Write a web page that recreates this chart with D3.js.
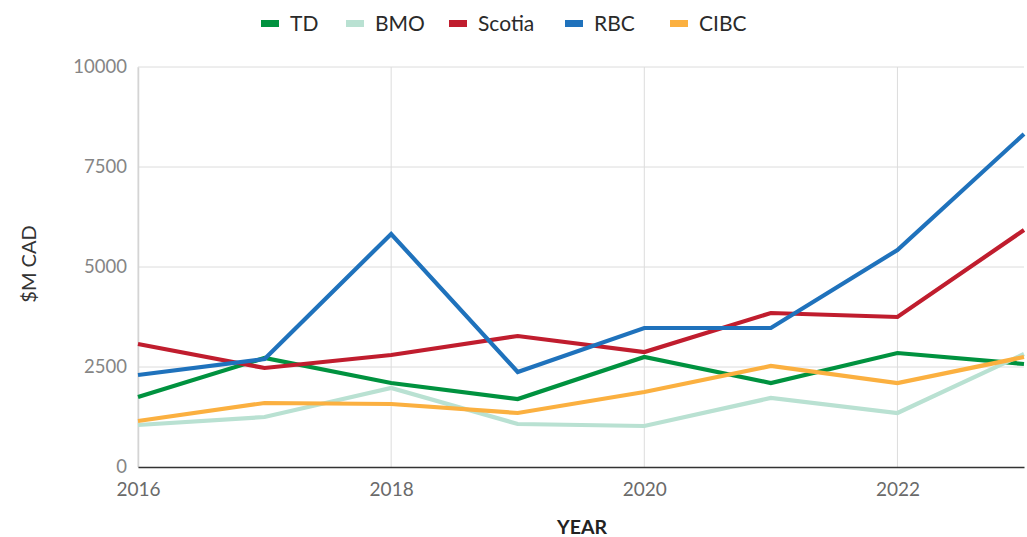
<!DOCTYPE html>
<html><head><meta charset="utf-8">
<script src="https://cdn.jsdelivr.net/npm/d3@7"></script>
<style>body{margin:0;background:#fff}svg{display:block;font-family:Lato,"Open Sans",sans-serif}</style>
</head><body><svg id="c" width="1027" height="537"></svg>
<script>
const years = [2016, 2017, 2018, 2019, 2020, 2021, 2022, 2023];
const seriesNames = ["TD", "BMO", "Scotia", "RBC", "CIBC"];
const seriesColors = ["#00923f", "#b9e1d2", "#c01d2e", "#1f72bc", "#fbb040"];
const tdValues = [1750, 2725, 2100, 1700, 2750, 2100, 2850, 2575];
const bmoValues = [1050, 1250, 1975, 1075, 1025, 1725, 1350, 2825];
const scotiaValues = [3075, 2475, 2800, 3275, 2875, 3850, 3750, 5925];
const rbcValues = [2300, 2700, 5825, 2375, 3475, 3475, 5425, 8325];
const cibcValues = [1150, 1600, 1575, 1350, 1875, 2525, 2100, 2750];
const yTicks = [0, 2500, 5000, 7500, 10000];
const xTicks = [2016, 2018, 2020, 2022];
const allValues = [tdValues, bmoValues, scotiaValues, rbcValues, cibcValues];

const svg = d3.select("#c");
const m = {l:138, r:1024, t:67, b:467};
const x = d3.scaleLinear().domain([2016, 2023]).range([m.l, m.r]);
const y = d3.scaleLinear().domain([0, 10000]).range([m.b, m.t]);

// grid
svg.append("g").selectAll("line").data(yTicks.filter(d=>d>0)).join("line")
  .attr("x1", m.l).attr("x2", m.r).attr("y1", d=>y(d)).attr("y2", d=>y(d))
  .attr("stroke", "#dcdcdc").attr("stroke-width", 1);
svg.append("g").selectAll("line").data(xTicks).join("line")
  .attr("x1", d=>x(d)).attr("x2", d=>x(d)).attr("y1", m.t).attr("y2", m.b)
  .attr("stroke", "#dcdcdc").attr("stroke-width", 1);

// y axis
const ya = svg.append("g").attr("transform", `translate(${m.l},0)`)
  .call(d3.axisLeft(y).tickValues(yTicks).tickSize(0).tickPadding(11).tickFormat(d3.format("d")));
ya.select(".domain").attr("stroke", "#d4d4d4").attr("stroke-width", 1.5);
ya.selectAll("text").attr("fill", "#858585").attr("font-size", 18.5).attr("font-family", "Lato");

// x axis
const xa = svg.append("g").attr("transform", `translate(0,${m.b})`)
  .call(d3.axisBottom(x).tickValues(xTicks).tickSize(0).tickPadding(16).tickFormat(d3.format("d")));
xa.select(".domain").attr("stroke", "#333").attr("stroke-width", 1.5);
xa.selectAll("text").attr("fill", "#6a6a6a").attr("font-size", 19).attr("font-family", "Lato");

// lines
const line = d3.line().x((d,i)=>x(years[i])).y(d=>y(d));
svg.append("g").selectAll("path").data(allValues).join("path")
  .attr("d", line).attr("fill", "none")
  .attr("stroke", (d,i)=>seriesColors[i]).attr("stroke-width", 4.2)
  .attr("stroke-linejoin", "miter");

// axis titles
svg.append("text").attr("x", 582).attr("y", 534).attr("text-anchor", "middle")
  .attr("font-size", 19.5).attr("font-weight", "bold").attr("fill", "#222").text("YEAR");
svg.append("text").attr("transform", "translate(36,264) rotate(-90)").attr("text-anchor", "middle")
  .attr("font-size", 20).attr("fill", "#333").text("$M CAD");

// legend
const legX = [261, 346, 449, 565, 670];
const lg = svg.append("g").selectAll("g").data(seriesNames).join("g")
  .attr("transform", (d,i)=>`translate(${legX[i]},0)`);
lg.append("rect").attr("x", 0).attr("y", 20).attr("width", 18).attr("height", 7)
  .attr("fill", (d,i)=>seriesColors[i]);
lg.append("text").attr("x", 29).attr("y", 31).attr("font-size", 21).attr("fill", "#2a2a2a").text(d=>d);
</script></body></html>
